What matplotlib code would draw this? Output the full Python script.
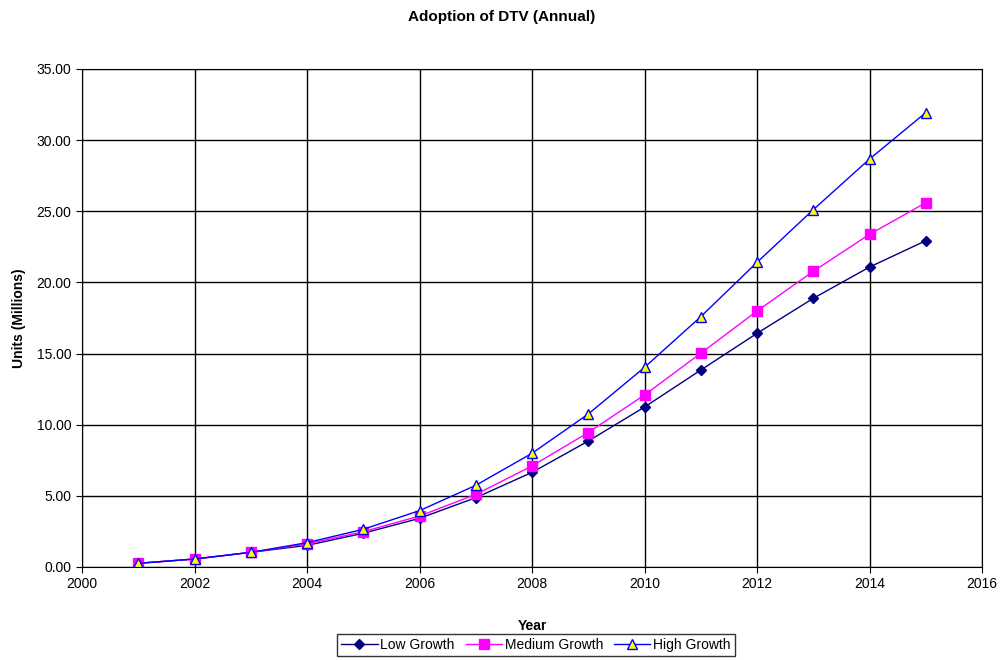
import matplotlib
matplotlib.use("Agg")
import matplotlib.pyplot as plt
from matplotlib.ticker import FormatStrFormatter, MultipleLocator

plt.rcParams['font.family'] = ['Liberation Sans', 'DejaVu Sans']

years = list(range(2001, 2016))
low = [0.26, 0.56, 1.03, 1.52, 2.37, 3.42, 4.87, 6.65, 8.85, 11.24, 13.84, 16.42, 18.88, 21.08, 22.93]
medium = [0.26, 0.56, 1.03, 1.62, 2.48, 3.58, 5.10, 7.10, 9.45, 12.09, 15.02, 17.99, 20.78, 23.38, 25.60]
high = [0.26, 0.56, 1.03, 1.71, 2.65, 3.96, 5.74, 7.99, 10.75, 14.03, 17.59, 21.41, 25.11, 28.67, 31.93]

fig = plt.figure(figsize=(10.02, 6.60), dpi=100)
ax = fig.add_axes([82/1002, 1-567/660, 900/1002, 498/660])

ax.plot(years, low, color='#000080', marker='D', markersize=5, linewidth=1, label='Low Growth')
ax.plot(years, medium, color='#FF00FF', marker='s', markersize=7, linewidth=1, label='Medium Growth')
ax.plot(years, high, color='#0000FF', marker='^', markersize=7, markerfacecolor='#FFFF00',
        markeredgecolor='#0000FF', markeredgewidth=1, linewidth=1, label='High Growth')

ax.set_xlim(2000, 2016)
ax.set_ylim(0, 35)
ax.xaxis.set_major_locator(MultipleLocator(2))
ax.yaxis.set_major_locator(MultipleLocator(5))
ax.yaxis.set_major_formatter(FormatStrFormatter('%.2f'))
ax.grid(True, color='black', linewidth=1)
ax.set_axisbelow(True)
for s in ax.spines.values():
    s.set_color('black')
ax.tick_params(labelsize=10, direction='out', length=4, color='black')

ax.set_xlabel('Year', fontsize=10, fontweight='bold', labelpad=20)
ax.set_ylabel('Units (Millions)', fontsize=10, fontweight='bold', labelpad=8)
fig.text(502/1002, 1-17/660, 'Adoption of DTV (Annual)', fontsize=11, fontweight='bold',
         ha='center', va='center')

leg = fig.legend(loc='center', bbox_to_anchor=(536/1002, 1-645/660), ncol=3, fontsize=10,
                 frameon=True, fancybox=False, edgecolor='black', borderpad=0.3,
                 handlelength=2.6, columnspacing=0.8, handletextpad=0.2)
leg.get_frame().set_linewidth(1)

fig.savefig('out.png', dpi=100)
